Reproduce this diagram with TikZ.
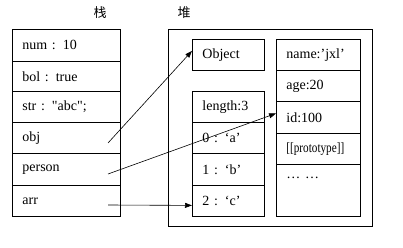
\documentclass[tikz,border=0pt]{standalone}
\usepackage{fontspec}
\setmainfont{Liberation Serif}[Ligatures=TeXOff]
\newfontfamily\cjk{Noto Sans CJK SC}
\usetikzlibrary{arrows.meta,positioning}

\tikzset{
  cell/.style={draw,line width=0.8pt,anchor=north west,inner ysep=0pt,inner xsep=10pt,
    minimum height=31pt,align=left,font=\fontsize{14}{16}\selectfont},
  stackcell/.style={cell,minimum width=108pt,text width=88pt},
  heapcell/.style={cell,minimum width=72pt,text width=52pt},
  propcell/.style={cell,minimum width=84pt,text width=64pt},
  ref/.style={line width=0.6pt,-{Triangle[length=7pt,width=5pt]}},
  title/.style={font=\cjk\fontsize{13}{15}\selectfont}
}

\begin{document}
\begin{tikzpicture}[x=1pt,y=-1pt]
\useasboundingbox (0,0) rectangle (403,248);

% stack
\node[title] (stacklabel) at (100,13) {栈};
\node[stackcell,minimum height=32pt] (num) at (12,29) {num : 10};
\node[stackcell,minimum height=30pt] (bol) at (12,61) {bol : true};
\node[stackcell] (str) at (12,91) {str : "abc";};
\node[stackcell] (obj) at (12,122) {obj};
\node[stackcell,minimum height=32pt] (person) at (12,153) {person};
\node[stackcell] (arr) at (12,185) {arr};

% heap
\node[title] (heaplabel) at (184,13) {堆};
\draw[line width=0.8pt] (168,29) rectangle (372,226);

\node[heapcell] (object) at (192,39) {Object};

\node[heapcell] (len) at (192,91) {length:3};
\node[heapcell] (c0) at (192,122) {0 : ‘a’};
\node[heapcell,minimum height=32pt] (c1) at (192,153) {1 : ‘b’};
\node[heapcell] (c2) at (192,185) {2 : ‘c’};

\node[propcell] (name) at (276,39) {name:’jxl’};
\node[propcell,minimum height=31pt] (age) at (276,70) {age:20};
\node[propcell,minimum height=32pt] (id) at (276,101) {id:100};
\node[propcell] (proto) at (276,133) {\scalebox{0.8}[1]{[[prototype]]}};
\node[propcell,minimum height=52pt,text depth=26pt] (rest) at (276,164) {… …};

% references
\coordinate (objref) at (108,143);
\coordinate (personref) at (108,174);
\coordinate (arrref) at (108,205);
\draw[ref] (objref) -- ([yshift=4pt]object.west);
\draw[ref] (personref) -- ([yshift=4pt]id.west);
\draw[ref] (arrref) -- ([yshift=-4.5pt]c2.west);
\end{tikzpicture}
\end{document}
